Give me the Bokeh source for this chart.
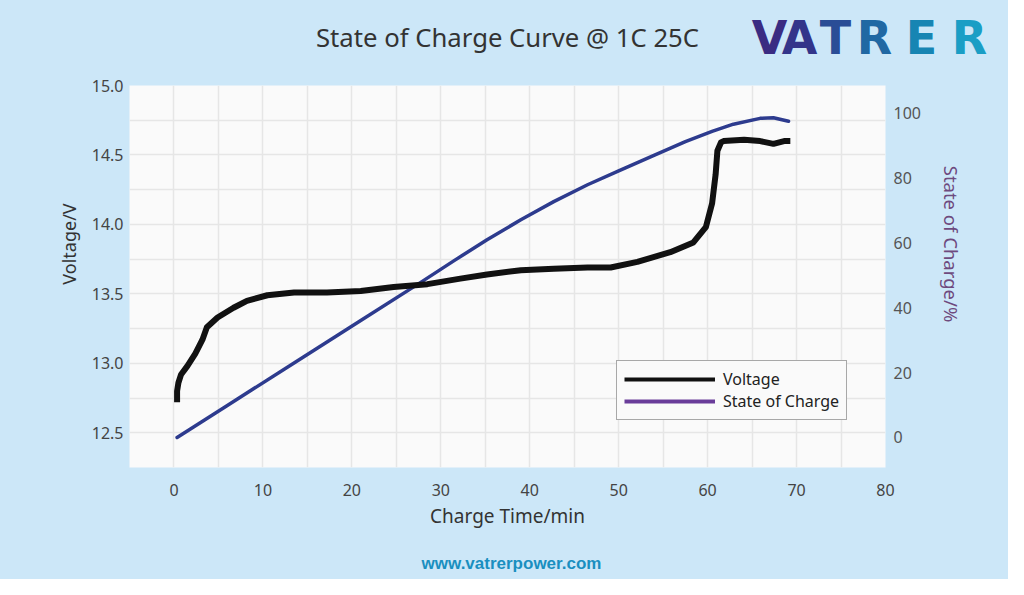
import numpy as np
from bokeh.plotting import figure
from bokeh.layouts import column, row
from bokeh.models import (Range1d, LinearAxis, SingleIntervalTicker, FixedTicker,
                          Label, Legend, LegendItem, PrintfTickFormatter)
from bokeh.embed import file_html
from bokeh.resources import INLINE

# ---------------- data ----------------
time_v = [0.35, 0.35, 0.5, 0.8, 1.5, 2.4, 3.2, 3.7, 4.9, 6.7, 8.2, 10.5, 13.5, 17.2,
          21.0, 24.7, 28.5, 32.2, 35.2, 39.0, 42.7, 46.5, 49.1, 52.1, 55.8, 58.4,
          59.8, 60.5, 60.9, 61.1, 61.5, 61.8, 64.1, 65.9, 67.4, 68.6, 69.3]
voltage = [12.72, 12.80, 12.86, 12.92, 12.98, 13.07, 13.17, 13.26, 13.33, 13.40, 13.45,
           13.49, 13.51, 13.51, 13.52, 13.55, 13.57, 13.61, 13.64, 13.67, 13.68, 13.69,
           13.69, 13.73, 13.80, 13.87, 13.98, 14.15, 14.36, 14.53, 14.59, 14.60, 14.61,
           14.60, 14.58, 14.60, 14.60]

time_s = [0.35, 6.0, 13.5, 21.0, 27.7, 31.5, 35.2, 39.0, 42.7, 46.5, 50.0, 53.9,
          57.5, 60.5, 62.9, 65.9, 67.4, 69.1]
soc = [0.0, 9.9, 23.0, 36.1, 47.8, 54.6, 61.0, 67.2, 72.8, 78.0, 82.3, 87.0,
       91.3, 94.5, 96.7, 98.5, 98.7, 97.6]

x_ticks = [0, 10, 20, 30, 40, 50, 60, 70, 80]
v_ticks = [12.5, 13.0, 13.5, 14.0, 14.5, 15.0]
soc_ticks = [0, 20, 40, 60, 80, 100]

title_text = "State of Charge Curve @ 1C 25C"
x_label = "Charge Time/min"
y_label = "Voltage/V"
y2_label = "State of Charge/%"
legend_labels = ["Voltage", "State of Charge"]
logo_letters = ["V", "A", "T", "R", "E", "R"]
footer_text = "www.vatrerpower.com"

# ---------------- styles ----------------
BG = "#cce7f8"
FONT = "Noto Sans"
W = 1008
HEAD_H, MID_H, FOOT_H = 70, 470, 39
LEFT_W, RIGHT_W = 82, 76
MAIN_W = W - LEFT_W - RIGHT_W
XR = (-5, 80)
YR = (12.25, 15.0)
Y2R = (-9.26, 108.64)
ROT_FIX = 20  # rotated label anchor correction (px)


def blank(w, h):
    f = figure(width=w, height=h, output_backend="svg", toolbar_location=None,
               x_range=Range1d(0, w), y_range=Range1d(h, 0),
               x_axis_location=None, y_axis_location=None,
               min_border=0, min_border_left=0, min_border_right=0,
               min_border_top=0, min_border_bottom=0,
               background_fill_color=BG, border_fill_color=BG,
               outline_line_color=None)
    for g in f.grid:
        g.visible = False
    return f


# ---------------- main chart ----------------
p = figure(width=MAIN_W, height=MID_H, output_backend="svg", toolbar_location=None,
           x_range=Range1d(*XR), y_range=Range1d(*YR),
           min_border_left=47, min_border_right=47, min_border_top=15, min_border_bottom=73,
           background_fill_color="#fafafa", border_fill_color=BG,
           outline_line_color=None)

p.extra_y_ranges = {"soc": Range1d(*Y2R)}

for ax in [p.xaxis[0], p.yaxis[0]]:
    ax.axis_line_color = None
    ax.major_tick_line_color = None
    ax.minor_tick_line_color = None
    ax.major_tick_out = 0
    ax.minor_tick_out = 0
    ax.major_label_text_font = FONT
    ax.major_label_text_font_size = "16px"
    ax.major_label_text_color = "#444444"
    ax.axis_label_text_font = FONT
    ax.axis_label_text_font_style = "normal"

p.xaxis.ticker = FixedTicker(ticks=x_ticks)
p.xaxis.major_label_standoff = 16
p.xaxis.axis_label = x_label
p.xaxis.axis_label_text_font_size = "19px"
p.xaxis.axis_label_text_color = "#333333"
p.xaxis.axis_label_standoff = 4

p.yaxis.ticker = FixedTicker(ticks=v_ticks)
p.yaxis.formatter = PrintfTickFormatter(format="%.1f")
p.yaxis.major_label_standoff = 6

ax2 = LinearAxis(y_range_name="soc", ticker=FixedTicker(ticks=soc_ticks),
                 axis_line_color=None, major_tick_line_color=None,
                 minor_tick_line_color=None, major_tick_out=0, minor_tick_out=0,
                 major_label_standoff=8,
                 major_label_text_font=FONT, major_label_text_font_size="16px",
                 major_label_text_color="#555555")
p.add_layout(ax2, "right")

p.xgrid.ticker = SingleIntervalTicker(interval=5)
p.ygrid.ticker = SingleIntervalTicker(interval=0.25)
p.grid.grid_line_color = "#e6e6e6"
p.grid.grid_line_width = 1.5

p.line(time_s, soc, y_range_name="soc", line_color="#2d3b8e", line_width=3.5,
       line_join="round", line_cap="round")
p.line(time_v, voltage, line_color="#111111", line_width=6,
       line_join="round", line_cap="butt")

# legend swatches (kept off-range so only the legend shows them)
lv = p.line(x=[-100, -99], y=[0, 0], line_color="#111111", line_width=4)
ls = p.line(x=[-100, -99], y=[0, 0], line_color="#6a3d9a", line_width=4)
legend = Legend(items=[LegendItem(label=legend_labels[0], renderers=[lv]),
                       LegendItem(label=legend_labels[1], renderers=[ls])],
                location=(487, 47), orientation="vertical",
                glyph_width=91, glyph_height=18, label_height=18, label_width=10,
                label_standoff=8, spacing=0, padding=7, margin=0,
                label_text_font=FONT, label_text_font_size="16px",
                label_text_color="#222222",
                border_line_color="#555555", border_line_width=1,
                background_fill_color="#fafafa", background_fill_alpha=1)
p.add_layout(legend, "center")

# ---------------- header ----------------
head = blank(W, HEAD_H)
head.add_layout(Label(x=507, y=37, text=title_text, text_font=FONT,
                      text_font_size="25.7px", text_color="#333333",
                      text_align="center", text_baseline="middle"))
logo_x = [769, 799, 835, 874, 921, 969]
logo_c = ["#3a2c82", "#33358a", "#2a4d96", "#2068a3", "#1785b3", "#1a9ec5"]
for t, lx, c in zip(logo_letters, logo_x, logo_c):
    head.add_layout(Label(x=lx, y=37, text=t, text_font="DejaVu Sans",
                          text_font_style="bold", text_font_size="46px", text_color=c,
                          text_align="center", text_baseline="middle"))

# ---------------- side labels ----------------
left = blank(LEFT_W, MID_H)
left.add_layout(Label(x=68, y=245 - HEAD_H + ROT_FIX, text=y_label, angle=np.pi / 2,
                      text_font=FONT, text_font_size="18px", text_color="#333333",
                      text_align="center", text_baseline="middle"))
right = blank(RIGHT_W, MID_H)
right.add_layout(Label(x=951 - LEFT_W - MAIN_W, y=245 - HEAD_H + ROT_FIX, text=y2_label,
                       angle=-np.pi / 2,
                       text_font=FONT, text_font_size="18.5px", text_color="#6e4a7e",
                       text_align="center", text_baseline="middle"))

# ---------------- footer ----------------
foot = blank(W, FOOT_H)
foot.add_layout(Label(x=511, y=563 - HEAD_H - MID_H, text=footer_text,
                      text_font="Liberation Sans", text_font_style="bold",
                      text_font_size="17px", text_color="#1a8fc0",
                      text_align="center", text_baseline="middle"))

mid = row(left, p, right, spacing=0, styles={"background-color": BG})
layout = column(head, mid, foot, spacing=0, styles={"background-color": BG})
open("out.html", "w").write(file_html(layout, INLINE))
